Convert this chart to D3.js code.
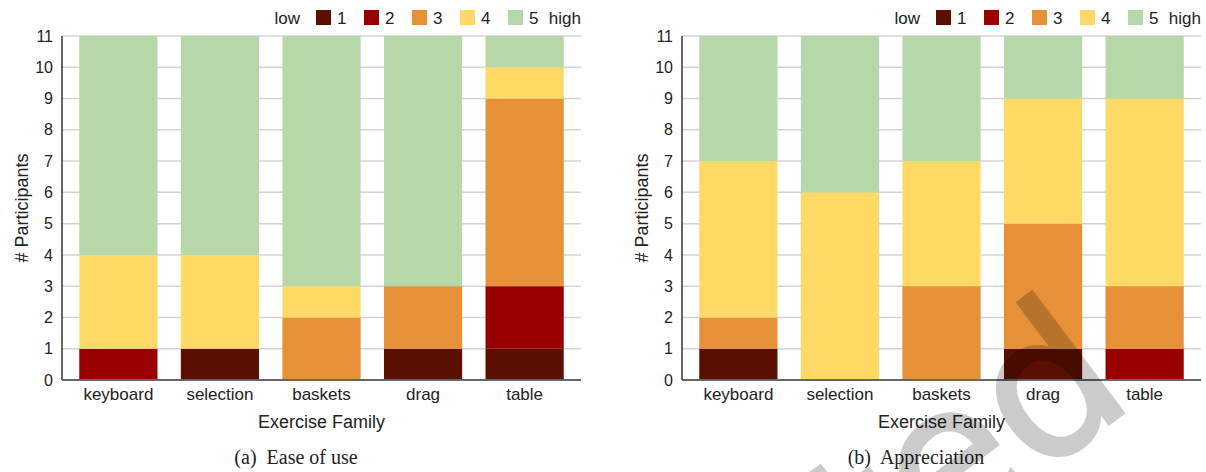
<!DOCTYPE html>
<html>
<head>
<meta charset="utf-8">
<script src="https://cdn.jsdelivr.net/npm/d3@7"></script>
<style>
  body { margin: 0; background: #fff; }
  svg { display: block; }
  .tick text { font-family: "Liberation Sans", Arial, sans-serif; fill: #222; }
</style>
</head>
<body>
<script>
const width = 1206;
const height = 472;

// data
const categories = ["keyboard", "selection", "baskets", "drag", "table"];
const levels = ["1", "2", "3", "4", "5"];
const levelColors = ["#5b0f00", "#980000", "#e69138", "#ffd966", "#b6d7a8"];
const yTicks = [0, 1, 2, 3, 4, 5, 6, 7, 8, 9, 10, 11];

// (a) ease of use, counts per rating level
const ease1 = [0, 1, 0, 1, 1];
const ease2 = [1, 0, 0, 0, 2];
const ease3 = [0, 0, 2, 2, 6];
const ease4 = [3, 3, 1, 0, 1];
const ease5 = [7, 7, 8, 8, 1];

// (b) appreciation
const appr1 = [1, 0, 0, 1, 0];
const appr2 = [0, 0, 0, 0, 1];
const appr3 = [1, 0, 3, 4, 2];
const appr4 = [5, 6, 4, 4, 6];
const appr5 = [4, 5, 4, 2, 2];

const svg = d3.select("body")
  .append("svg")
  .attr("width", width)
  .attr("height", height);

function toRows(series) {
  return categories.map((c, i) => {
    const row = { cat: c };
    levels.forEach((l, j) => row[l] = series[j][i]);
    return row;
  });
}

function drawChart(ox, series, caption) {
  const left = 62, right = 581, top = 36, bottom = 380;
  const g = svg.append("g").attr("transform", `translate(${ox},0)`);

  const x = d3.scaleBand()
    .domain(categories)
    .range([left, right])
    .paddingInner(0.23)
    .paddingOuter(0.17);

  const y = d3.scaleLinear()
    .domain([0, 11])
    .range([bottom, top]);

  // gridlines
  g.append("g")
    .selectAll("line")
    .data(yTicks.filter(d => d > 0))
    .enter()
    .append("line")
    .attr("x1", left)
    .attr("x2", right)
    .attr("y1", d => y(d))
    .attr("y2", d => y(d))
    .attr("stroke", "#d4d4d4")
    .attr("stroke-width", 1.5);

  const stacked = d3.stack().keys(levels)(toRows(series));

  g.append("g")
    .selectAll("g")
    .data(stacked)
    .enter()
    .append("g")
    .attr("fill", (d, i) => levelColors[i])
    .selectAll("rect")
    .data(d => d)
    .enter()
    .append("rect")
    .attr("x", d => x(d.data.cat))
    .attr("y", d => y(d[1]))
    .attr("width", x.bandwidth())
    .attr("height", d => y(d[0]) - y(d[1]));

  // axes lines
  g.append("line")
    .attr("x1", left).attr("x2", left)
    .attr("y1", top).attr("y2", bottom)
    .attr("stroke", "#333").attr("stroke-width", 1.5);
  g.append("line")
    .attr("x1", left).attr("x2", right)
    .attr("y1", bottom).attr("y2", bottom)
    .attr("stroke", "#666").attr("stroke-width", 2);

  const yAxis = g.append("g")
    .attr("transform", `translate(${left},0)`)
    .call(d3.axisLeft(y).tickValues(yTicks).tickSize(0).tickPadding(9));
  yAxis.select(".domain").remove();
  yAxis.selectAll("text").attr("font-size", 16);

  const xAxis = g.append("g")
    .attr("transform", `translate(0,${bottom})`)
    .call(d3.axisBottom(x).tickSize(0).tickPadding(8));
  xAxis.select(".domain").remove();
  xAxis.selectAll("text").attr("font-size", 17);

  g.append("text")
    .attr("transform", `translate(28,${(top + bottom) / 2}) rotate(-90)`)
    .attr("text-anchor", "middle")
    .attr("font-family", "Liberation Sans, Arial, sans-serif")
    .attr("font-size", 18)
    .attr("fill", "#222")
    .text("# Participants");

  g.append("text")
    .attr("x", (left + right) / 2)
    .attr("y", 428)
    .attr("text-anchor", "middle")
    .attr("font-family", "Liberation Sans, Arial, sans-serif")
    .attr("font-size", 18)
    .attr("fill", "#222")
    .text("Exercise Family");

  g.append("text")
    .attr("x", 296)
    .attr("y", 464)
    .attr("text-anchor", "middle")
    .attr("font-family", "Liberation Serif, serif")
    .attr("font-size", 20)
    .attr("fill", "#222")
    .style("white-space", "pre")
    .text(caption);

  // legend, right aligned to plot edge
  const legend = g.append("g").attr("font-family", "Liberation Sans, Arial, sans-serif")
    .attr("font-size", 17).attr("fill", "#222");
  legend.append("text").attr("x", right).attr("y", 24).attr("text-anchor", "end").text("high");
  levels.forEach((l, i) => {
    const sx = 316 + i * 48;
    legend.append("rect")
      .attr("x", sx).attr("y", 10).attr("width", 15).attr("height", 15)
      .attr("fill", levelColors[i]);
    legend.append("text").attr("x", sx + 21).attr("y", 24).text(l);
  });
  legend.append("text").attr("x", 300).attr("y", 24).attr("text-anchor", "end").text("low");
}

drawChart(0, [ease1, ease2, ease3, ease4, ease5], "(a)  Ease of use");
drawChart(620, [appr1, appr2, appr3, appr4, appr5], "(b)  Appreciation");

// watermark, partly outside the picture as in the source
svg.append("g")
  .attr("opacity", 0.2)
  .append("text")
  .attr("transform", "translate(1138,402) rotate(-37)")
  .attr("text-anchor", "end")
  .attr("font-family", "DejaVu Sans, sans-serif")
  .attr("font-size", 200)
  .attr("fill", "#000")
  .attr("stroke", "#000")
  .attr("stroke-width", 3)
  .text("Accepted");
</script>
</body>
</html>
